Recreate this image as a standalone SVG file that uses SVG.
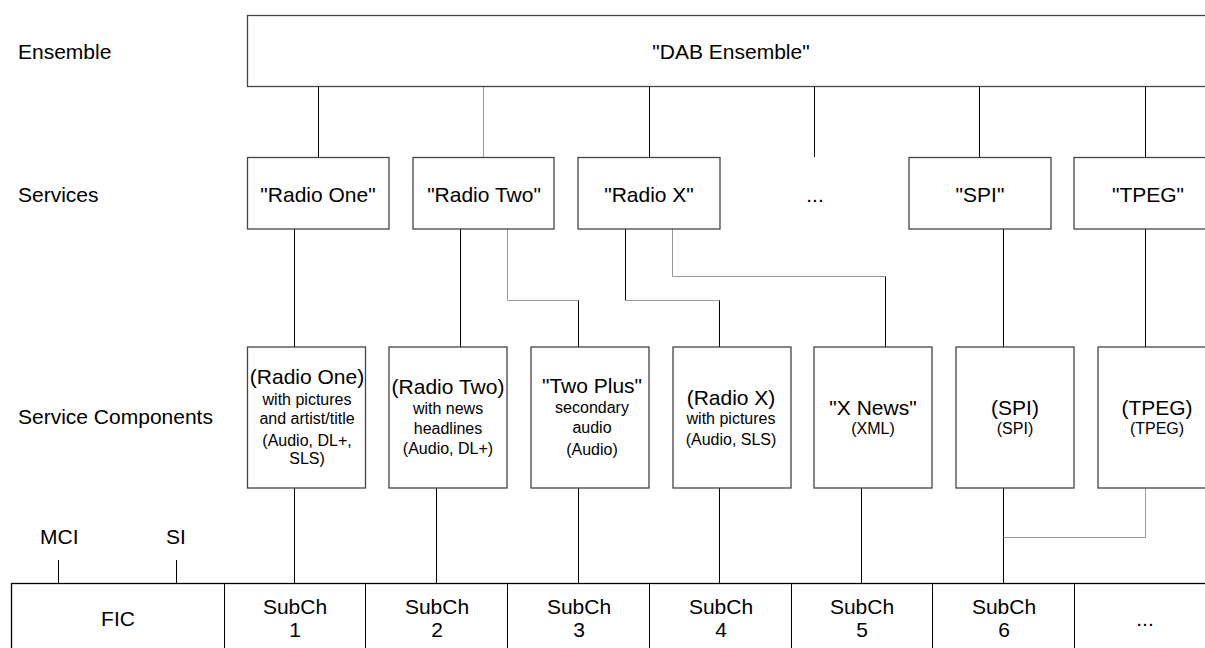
<svg xmlns="http://www.w3.org/2000/svg" width="1205" height="648" viewBox="0 0 1205 648">
<style>
text{font-family:"Liberation Sans",Arial,sans-serif;fill:#000;text-anchor:middle}
.lbl{font-size:21px;text-anchor:start}
.big{font-size:21px}
.sm{font-size:16px}
.box{fill:#fff;stroke:#444;stroke-width:1.3}
.c{fill:none;stroke:#000;stroke-width:1}
.g{fill:none;stroke:#999;stroke-width:1}
</style>
<rect width="1205" height="648" fill="#fff"/>
<g id="labels">
<text class="lbl" x="18" y="59">Ensemble</text>
<text class="lbl" x="18" y="202">Services</text>
<text class="lbl" x="18" y="424">Service Components</text>
<text class="lbl" x="40" y="544">MCI</text>
<text class="lbl" x="166" y="544">SI</text>
</g>
<g id="connectors">
<path class="c" d="M318.5 86.5V157M649.5 86.5V157M814.5 86.5V157M979.5 86.5V157M1145.5 86.5V157"/>
<path class="g" d="M483.5 86.5V157"/>
<path class="c" d="M294.5 229V347M460.5 229V347M1003.5 229V347M1145.5 229V347"/>
<path class="g" d="M507.5 229V300.5H578.5"/>
<path class="c" d="M578.5 300.5V347"/>
<path class="c" d="M625.5 229V300.5"/>
<path class="g" d="M625.5 300.5H719.5"/>
<path class="c" d="M719.5 300.5V347"/>
<path class="g" d="M672.5 229V276.5H885.5"/>
<path class="c" d="M885.5 276.5V347"/>
<path class="c" d="M294.5 488V583.5M436.5 488V583.5M578.5 488V583.5M719.5 488V583.5M861.5 488V583.5M1003.5 488V583.5"/>
<path class="g" d="M1145.5 488V537.5H1003.5"/>
<path class="c" d="M58.5 560V583.5M176.5 560V583.5"/>
</g>
<g id="ensemble">
<rect class="box" x="247.5" y="15.5" width="975" height="71"/>
<text class="big" x="731" y="59">"DAB Ensemble"</text>
</g>
<g id="svc-radio-one">
<rect class="box" x="247.5" y="157.5" width="141.5" height="71.5"/>
<text class="big" x="318" y="202">"Radio One"</text>
</g>
<g id="svc-radio-two">
<rect class="box" x="413" y="157.5" width="141" height="71.5"/>
<text class="big" x="484" y="202">"Radio Two"</text>
</g>
<g id="svc-radio-x">
<rect class="box" x="578" y="157.5" width="142" height="71.5"/>
<text class="big" x="649" y="202">"Radio X"</text>
</g>
<g id="svc-more">
<text class="big" x="815" y="202">...</text>
</g>
<g id="svc-spi">
<rect class="box" x="909" y="157.5" width="142" height="71.5"/>
<text class="big" x="980" y="202">"SPI"</text>
</g>
<g id="svc-tpeg">
<rect class="box" x="1074" y="157.5" width="142" height="71.5"/>
<text class="big" x="1148" y="202">"TPEG"</text>
</g>
<g id="sc-radio-one">
<rect class="box" x="247.5" y="347" width="118" height="141"/>
<text class="big" x="307" y="384">(Radio One)</text>
<text class="sm" x="307" y="405">with pictures</text>
<text class="sm" x="307" y="424">and artist/title</text>
<text class="sm" x="307" y="445.5">(Audio, DL+,</text>
<text class="sm" x="307" y="464">SLS)</text>
</g>
<g id="sc-radio-two">
<rect class="box" x="389" y="347" width="118" height="141"/>
<text class="big" x="448" y="394">(Radio Two)</text>
<text class="sm" x="448" y="414">with news</text>
<text class="sm" x="448" y="434">headlines</text>
<text class="sm" x="448" y="454">(Audio, DL+)</text>
</g>
<g id="sc-two-plus">
<rect class="box" x="531" y="347" width="118" height="141"/>
<text class="big" x="592" y="392.5">"Two Plus"</text>
<text class="sm" x="592" y="413">secondary</text>
<text class="sm" x="592" y="432.5">audio</text>
<text class="sm" x="592" y="455">(Audio)</text>
</g>
<g id="sc-radio-x">
<rect class="box" x="673" y="347" width="118" height="141"/>
<text class="big" x="731" y="405">(Radio X)</text>
<text class="sm" x="731" y="424">with pictures</text>
<text class="sm" x="731" y="445">(Audio, SLS)</text>
</g>
<g id="sc-x-news">
<rect class="box" x="814" y="347" width="118" height="141"/>
<text class="big" x="873" y="415">"X News"</text>
<text class="sm" x="873" y="434">(XML)</text>
</g>
<g id="sc-spi">
<rect class="box" x="956" y="347" width="118" height="141"/>
<text class="big" x="1015" y="415">(SPI)</text>
<text class="sm" x="1015" y="434">(SPI)</text>
</g>
<g id="sc-tpeg">
<rect class="box" x="1098" y="347" width="118" height="141"/>
<text class="big" x="1157" y="415">(TPEG)</text>
<text class="sm" x="1157" y="434">(TPEG)</text>
</g>
<g id="multiplex">
<rect class="box" x="11.5" y="583.5" width="1210" height="80" style="stroke:#000"/>
<path class="c" d="M224.5 583.5V648M365.5 583.5V648M507.5 583.5V648M649.5 583.5V648M791.5 583.5V648M932.5 583.5V648M1074.5 583.5V648"/>
<text class="big" x="118" y="626">FIC</text>
<text class="big" x="295" y="614">SubCh</text><text class="big" x="295" y="637">1</text>
<text class="big" x="437" y="614">SubCh</text><text class="big" x="437" y="637">2</text>
<text class="big" x="579" y="614">SubCh</text><text class="big" x="579" y="637">3</text>
<text class="big" x="721" y="614">SubCh</text><text class="big" x="721" y="637">4</text>
<text class="big" x="862" y="614">SubCh</text><text class="big" x="862" y="637">5</text>
<text class="big" x="1004" y="614">SubCh</text><text class="big" x="1004" y="637">6</text>
<text class="big" x="1145" y="626">...</text>
</g>
</svg>
